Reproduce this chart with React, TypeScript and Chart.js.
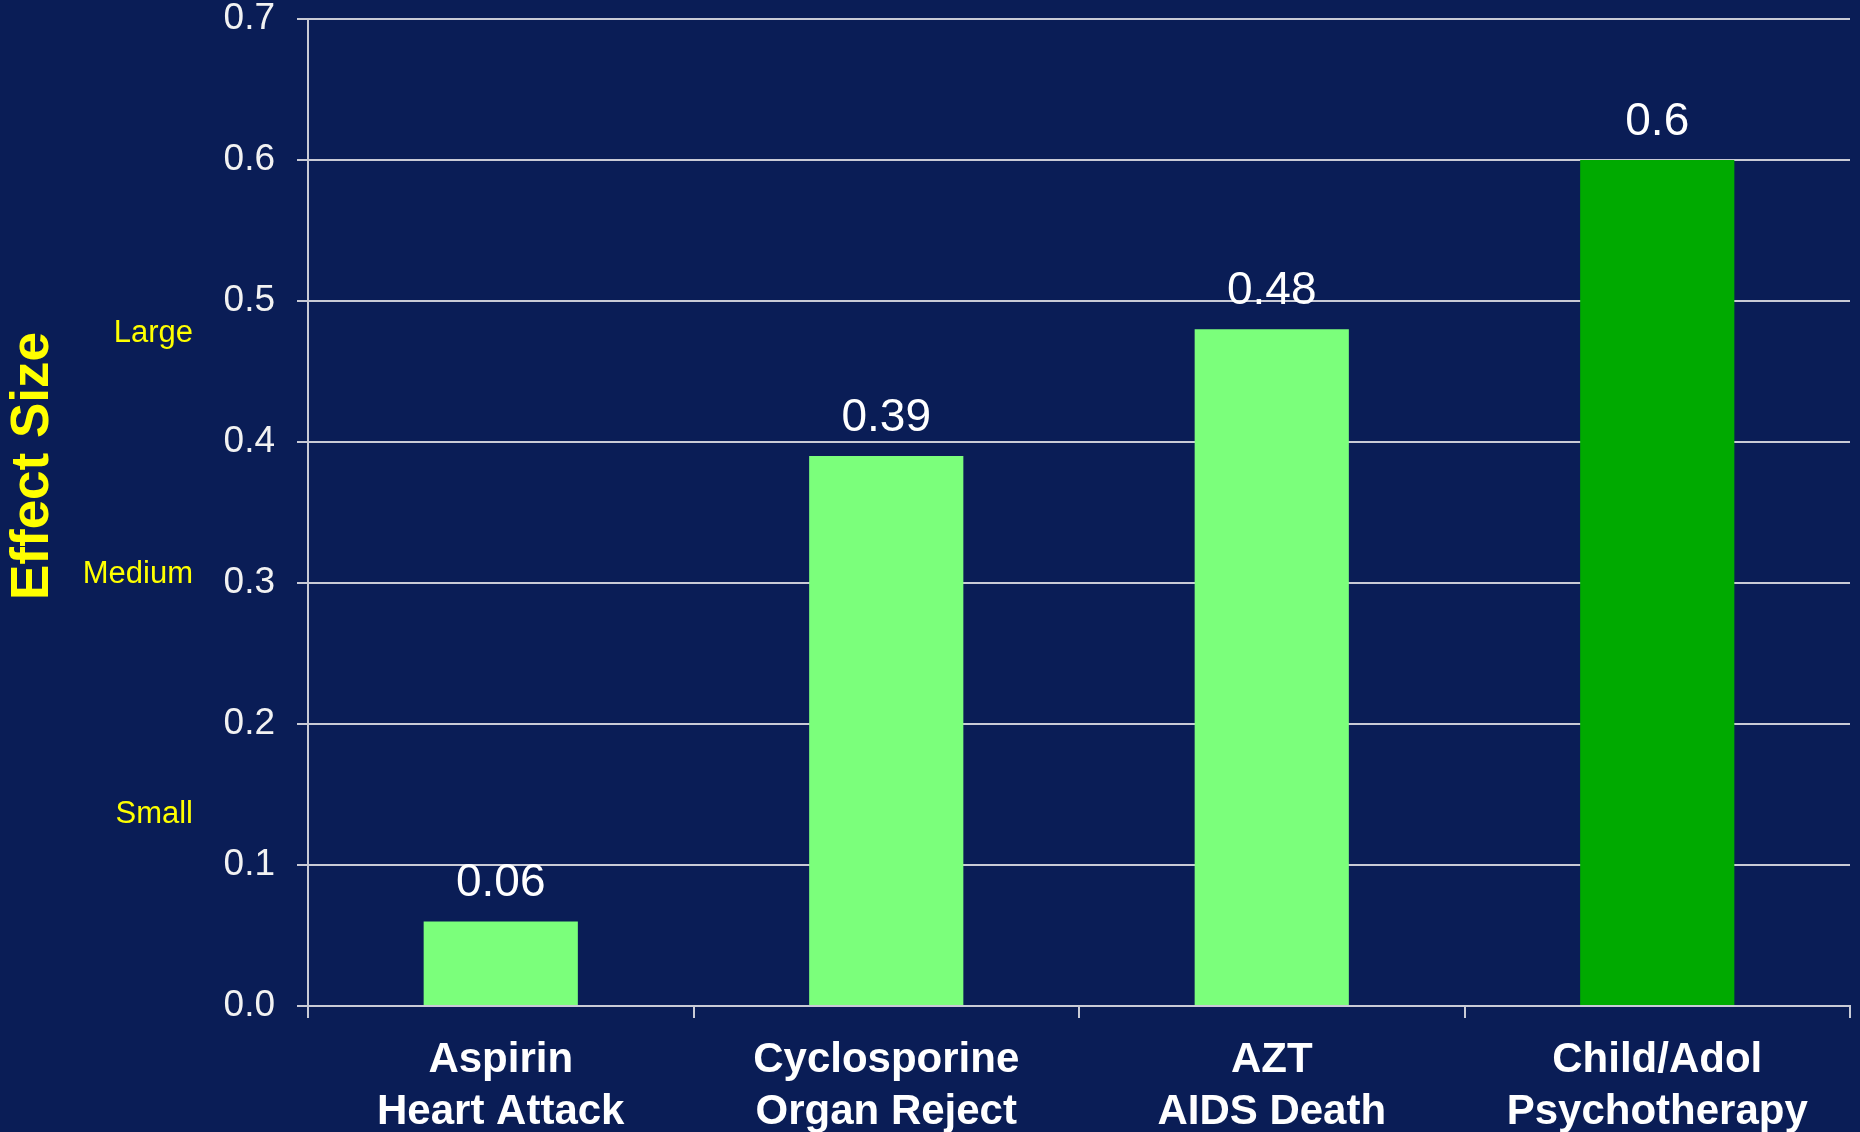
import React, { useEffect, useRef } from "react";
import { Chart, registerables } from "chart.js";

Chart.register(...registerables);

const categories: string[][] = [
  ["Aspirin", "Heart Attack"],
  ["Cyclosporine", "Organ Reject"],
  ["AZT", "AIDS Death"],
  ["Child/Adol", "Psychotherapy"],
];
const effectSizes: number[] = [0.06, 0.39, 0.48, 0.6];
const valueLabels: string[] = ["0.06", "0.39", "0.48", "0.6"];
const barColors: string[] = ["#7BFF7B", "#7BFF7B", "#7BFF7B", "#00AA00"];
const yMin = 0;
const yMax = 0.7;
const yStep = 0.1;
const sizeNames: string[] = ["Small", "Medium", "Large"];
const sizeLevels: number[] = [0.136, 0.306, 0.477];
const axisTitle = "Effect Size";

const BG = "#0A1D56";
const GRID = "#C9CBD6";
const FONT = "'Liberation Sans', Arial, Helvetica, sans-serif";

const overlayPlugin = {
  id: "overlay",
  afterDatasetsDraw(chart: any) {
    const ctx = chart.ctx;
    const meta = chart.getDatasetMeta(0);
    const yScale = chart.scales.y;
    ctx.save();
    ctx.fillStyle = "#FFFFFF";
    ctx.font = `46px ${FONT}`;
    ctx.textAlign = "center";
    ctx.textBaseline = "alphabetic";
    meta.data.forEach((bar: any, i: number) => {
      ctx.fillText(valueLabels[i], bar.x, bar.y - 25);
    });
    ctx.fillStyle = "#FFFF00";
    ctx.font = `31px ${FONT}`;
    ctx.textAlign = "right";
    ctx.textBaseline = "middle";
    sizeNames.forEach((name, i) => {
      ctx.fillText(name, 193, yScale.getPixelForValue(sizeLevels[i]));
    });
    ctx.translate(33, 466);
    ctx.rotate(-Math.PI / 2);
    ctx.font = `bold 53px ${FONT}`;
    ctx.textAlign = "center";
    ctx.textBaseline = "middle";
    ctx.fillText(axisTitle, 0, 0);
    ctx.restore();
  },
};

export default function App() {
  const ref = useRef<HTMLCanvasElement | null>(null);

  useEffect(() => {
    document.body.style.margin = "0";
    const canvas = ref.current;
    if (!canvas) return;
    const chart = new Chart(canvas, {
      type: "bar",
      data: {
        labels: categories,
        datasets: [
          {
            data: effectSizes,
            backgroundColor: barColors,
            borderWidth: 0,
            barPercentage: 0.4,
            categoryPercentage: 1.0,
          },
        ],
      },
      options: {
        responsive: false,
        animation: false,
        layout: { padding: { top: 0, right: 10, left: 0, bottom: 0 } },
        plugins: {
          legend: { display: false },
          tooltip: { enabled: false },
          title: { display: false },
        },
        scales: {
          x: {
            offset: true,
            grid: {
              display: true,
              offset: true,
              drawOnChartArea: false,
              drawTicks: true,
              tickLength: 12,
              color: GRID,
              lineWidth: 2,
            },
            border: { display: true, color: GRID, width: 2 },
            ticks: {
              color: "#FFFFFF",
              font: { family: FONT, size: 42, weight: "bold", lineHeight: 1.25 },
              padding: 16,
              maxRotation: 0,
              minRotation: 0,
              autoSkip: false,
            },
            afterFit: (s: any) => {
              s.height = 126;
            },
          },
          y: {
            min: yMin,
            max: yMax,
            grid: {
              color: GRID,
              lineWidth: 2,
              tickLength: 11,
              drawTicks: true,
            },
            border: { display: true, color: GRID, width: 2 },
            ticks: {
              stepSize: yStep,
              color: "#F2F2F2",
              font: { family: FONT, size: 37, lineHeight: 1 },
              padding: 22,
              callback: (v: any) => Number(v).toFixed(1),
            },
            afterFit: (s: any) => {
              s.width = 308;
              s.paddingTop = 19;
              s.paddingBottom = 19;
            },
          },
        },
      },
      plugins: [overlayPlugin],
    });
    return () => chart.destroy();
  }, []);

  return (
    <div style={{ width: 1860, height: 1132, background: BG }}>
      <canvas ref={ref} width={1860} height={1132} />
    </div>
  );
}
